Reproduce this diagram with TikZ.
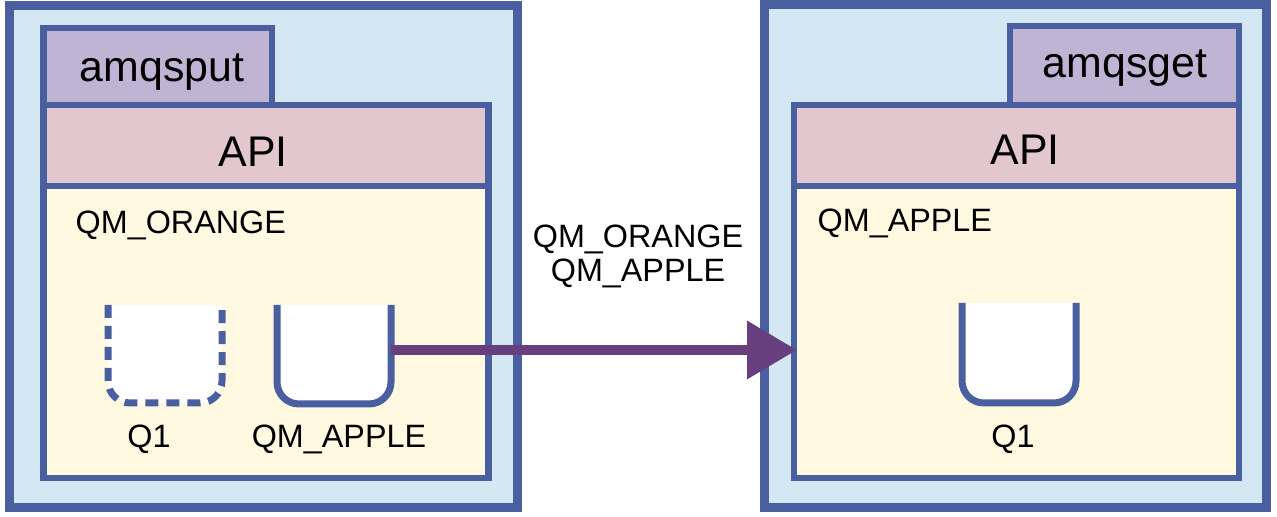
\documentclass[tikz,border=0pt]{standalone}
\usepackage{fontspec}
\setmainfont{Liberation Sans}
\usepackage{xcolor}
\usetikzlibrary{arrows.meta}

\definecolor{mqblue}{RGB}{74,95,160}
\definecolor{sysblue}{RGB}{212,232,244}
\definecolor{appviolet}{RGB}{192,180,212}
\definecolor{apipink}{RGB}{226,200,206}
\definecolor{qmyellow}{RGB}{255,249,226}
\definecolor{msgpurple}{RGB}{103,62,126}

\tikzset{
  outerbox/.style={draw=mqblue, line width=0.9mm, fill=sysblue},
  innerbox/.style={draw=mqblue, line width=0.65mm},
  queue/.style={draw=mqblue, line width=0.7mm, fill=white, rounded corners=2.2mm},
  biglbl/.style={inner sep=0pt, anchor=base, font=\fontsize{12.2}{14}\selectfont},
  lbl/.style={inner sep=0pt, anchor=base, font=\fontsize{9.2}{9.7}\selectfont},
  msgarrow/.style={draw=msgpurple, line width=1mm, -{Triangle[length=5mm,width=5.6mm]}}
}

\begin{document}
\begin{tikzpicture}[x=0.1mm, y=-0.1mm]

\useasboundingbox (0,0) rectangle (1277,517);

% QM_ORANGE
\draw[outerbox] (9,6) rectangle (517,508);
\draw[innerbox, fill=appviolet] (43.5,28) rectangle (272,105);
\draw[innerbox, fill=apipink] (43.5,105) rectangle (488.5,186);
\draw[innerbox, fill=qmyellow] (43.5,186) rectangle (488.5,478);

\node[biglbl] (put) at (162,82) {amqsput};
\node[biglbl] (apiL) at (253,167) {API};
\node[lbl, anchor=base west] (qmL) at (75,234) {QM\_ORANGE};

\draw[queue, dash pattern=on 1.3mm off 0.8mm] (108,305) -- (108,403) -- (222,403) -- (222,305); % Q1
\draw[queue] (277,305) -- (277,404) -- (391,404) -- (391,305); % QM_APPLE
\node[lbl] (q1L) at (149,448) {Q1};
\node[lbl] (xmitq) at (339,448) {QM\_APPLE};

% QM_APPLE
\draw[outerbox] (764,5) rectangle (1266,508);
\draw[innerbox, fill=appviolet] (1010,26) rectangle (1239,105);
\draw[innerbox, fill=apipink] (794,105) rectangle (1239,186);
\draw[innerbox, fill=qmyellow] (794,186) rectangle (1239,478);

\node[biglbl] (get) at (1125,78) {amqsget};
\node[biglbl] (apiR) at (1025,165) {API};
\node[lbl, anchor=base west] (qmR) at (817,232) {QM\_APPLE};

\draw[queue] (962,303) -- (962,403) -- (1076,403) -- (1076,303); % Q1
\node[lbl] (q1R) at (1013,448) {Q1};

% canale
\node[lbl, anchor=center, align=center] (chl) at (638,256) {QM\_ORANGE\\QM\_APPLE};

\coordinate (xmitout) at (391,350);
\coordinate (qmin) at (797,350);
\draw[msgarrow] (xmitout) -- (qmin);

\end{tikzpicture}
\end{document}
